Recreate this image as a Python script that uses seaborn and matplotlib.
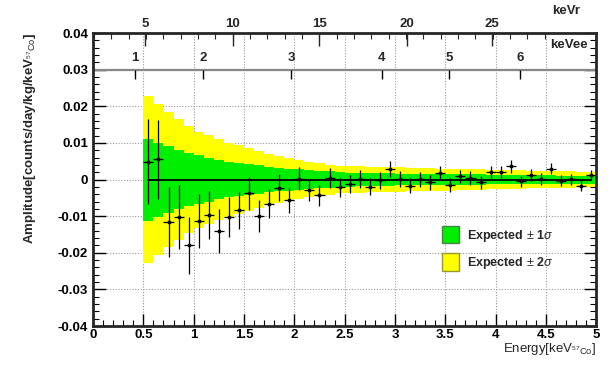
import numpy as np
import matplotlib
matplotlib.use('Agg')
import matplotlib.pyplot as plt
from matplotlib.patches import Patch
import seaborn as sns

sns.set_style('ticks')
plt.rcParams['font.family'] = ['Liberation Sans', 'DejaVu Sans']
plt.rcParams['mathtext.fontset'] = 'custom'
plt.rcParams['mathtext.rm'] = 'Liberation Sans'
plt.rcParams['mathtext.it'] = 'Liberation Sans:italic'
plt.rcParams['mathtext.bf'] = 'Liberation Sans:bold'

# bin centres (keV), 0.1 keV wide
energy = [0.55, 0.65, 0.75, 0.85, 0.95, 1.05, 1.15, 1.25, 1.35, 1.45,
          1.55, 1.65, 1.75, 1.85, 1.95, 2.05, 2.15, 2.25, 2.35, 2.45,
          2.55, 2.65, 2.75, 2.85, 2.95, 3.05, 3.15, 3.25, 3.35, 3.45,
          3.55, 3.65, 3.75, 3.85, 3.95, 4.05, 4.15, 4.25, 4.35, 4.45,
          4.55, 4.65, 4.75, 4.85, 4.95]

amplitude = [0.0048, 0.0055, -0.0116, -0.0102, -0.0179, -0.0113, -0.0097, -0.0141, -0.0102, -0.0084,
             -0.0038, -0.0099, -0.0066, -0.0022, -0.0057, 0.0002, -0.0029, -0.0043, 0.0005, -0.0021,
             -0.0012, 0.0001, -0.0019, -0.0002, 0.0029, 0.0001, -0.0017, 0.0001, -0.0008, 0.0018,
             -0.0014, 0.0009, 0.0004, -0.0008, 0.0020, 0.0020, 0.0036, -0.0005, 0.0013, 0.0001,
             0.0029, -0.0003, 0.0001, -0.0017, 0.0013]

amp_err = [0.0116, 0.0107, 0.0096, 0.0088, 0.0078, 0.0073, 0.0065, 0.0060, 0.0055, 0.0050,
           0.0046, 0.0043, 0.0040, 0.0037, 0.0034, 0.0031, 0.0029, 0.0028, 0.0027, 0.0026,
           0.0025, 0.0024, 0.0023, 0.0023, 0.0022, 0.0021, 0.0021, 0.0020, 0.0020, 0.0019,
           0.0019, 0.0018, 0.0018, 0.0018, 0.0017, 0.0017, 0.0017, 0.0016, 0.0016, 0.0016,
           0.0015, 0.0015, 0.0015, 0.0015, 0.0014]

sigma2 = [0.0227, 0.0206, 0.0184, 0.0164, 0.0145, 0.0131, 0.0122, 0.0110, 0.0101, 0.0094,
          0.0086, 0.0077, 0.0070, 0.0065, 0.0059, 0.0053, 0.0049, 0.0044, 0.0041, 0.0038,
          0.0037, 0.0036, 0.0035, 0.0034, 0.0034, 0.0033, 0.0032, 0.0031, 0.0031, 0.0030,
          0.0030, 0.0029, 0.0028, 0.0028, 0.0027, 0.0026, 0.0026, 0.0025, 0.0024, 0.0024,
          0.0023, 0.0022, 0.0022, 0.0021, 0.0021]

sigma1 = [0.0112, 0.0101, 0.0091, 0.0080, 0.0073, 0.0066, 0.0060, 0.0054, 0.0049, 0.0046,
          0.0043, 0.0039, 0.0035, 0.0032, 0.0030, 0.0028, 0.0026, 0.0024, 0.0022, 0.0020,
          0.0019, 0.0018, 0.0018, 0.0017, 0.0017, 0.0016, 0.0016, 0.0016, 0.0015, 0.0015,
          0.0015, 0.0014, 0.0014, 0.0014, 0.0013, 0.0013, 0.0013, 0.0012, 0.0012, 0.0012,
          0.0012, 0.0011, 0.0011, 0.0011, 0.0011]

# top axis: nuclear recoil energy
kevr_labels = [5, 10, 15, 20, 25]
kevr_pos = [0.52, 1.39, 2.25, 3.12, 3.96]
# inner axis at 0.03: electron-equivalent energy
kevee_labels = [1, 2, 3, 4, 5, 6]
kevee_pos = [0.42, 1.09, 1.97, 2.87, 3.54, 4.24]

energy = np.array(energy)
sigma1 = np.array(sigma1)
sigma2 = np.array(sigma2)

fig = plt.figure(figsize=(6.16, 3.8), dpi=100)
ax = fig.add_axes([0.151, 0.142, 0.817, 0.771])

ax.grid(True, which='major', color='#999999', linestyle=(0, (1, 1.5)), linewidth=0.8)
ax.set_axisbelow(True)

ax.bar(energy, 2 * sigma2, bottom=-sigma2, width=0.1, color='#ffff00', linewidth=0, zorder=2)
ax.bar(energy, 2 * sigma1, bottom=-sigma1, width=0.1, color='#00ee00', linewidth=0, zorder=3)
sns.lineplot(x=[energy[0], energy[-1]], y=[0, 0], ax=ax, color='black', linewidth=1.3, zorder=4)
ax.errorbar(energy, amplitude, yerr=amp_err, xerr=0.05, fmt='o', ms=1.8, color='black',
            elinewidth=0.9, capsize=0, zorder=5)

ax.set_xlim(0, 5)
ax.set_ylim(-0.04, 0.04)
ax.set_xticks(np.arange(0, 5.01, 0.5))
ax.set_xticklabels(['0', '0.5', '1', '1.5', '2', '2.5', '3', '3.5', '4', '4.5', '5'])
ax.set_xticks(np.arange(0, 5.01, 0.1), minor=True)
ax.set_yticks(np.arange(-0.04, 0.0401, 0.01))
ax.set_yticklabels(['-0.04', '-0.03', '-0.02', '-0.01', '0', '0.01', '0.02', '0.03', '0.04'])
ax.set_yticks(np.arange(-0.04, 0.0401, 0.002), minor=True)
ax.tick_params(axis='both', which='both', direction='in', labelsize=9.5, colors='black')
ax.tick_params(axis='y', which='both', right=True)
ax.tick_params(axis='x', which='both', top=False)
ax.tick_params(which='major', length=9, width=1)
ax.tick_params(which='minor', length=4.5, width=0.8)
ax.tick_params(axis='x', pad=2)
for spine in ax.spines.values():
    spine.set_linewidth(2)
    spine.set_zorder(10)

# keVr axis on top
fit = np.polyfit(kevr_labels, kevr_pos, 1)
axt = ax.twiny()
axt.set_xlim(0, 5)
axt.set_xticks(kevr_pos)
axt.set_xticklabels([str(v) for v in kevr_labels])
minor_r = np.polyval(fit, np.arange(2, 29))
axt.set_xticks(minor_r[(minor_r > 0) & (minor_r < 5)], minor=True)
axt.tick_params(axis='x', which='both', direction='in', labelsize=9.5, pad=2)
axt.tick_params(which='major', length=9, width=1)
axt.tick_params(which='minor', length=4.5, width=0.8)
for lab in axt.get_xticklabels():
    lab.set_fontweight('bold')
for spine in axt.spines.values():
    spine.set_visible(False)
axt.text(0.94, 1.055, 'keVr', transform=axt.transAxes, ha='center', va='bottom',
         fontsize=9.5, fontweight='bold')

# keVee axis drawn at 0.03
ax.axhline(0.03, color='#888888', linewidth=1.6, zorder=6)
ax.vlines(kevee_pos, 0.0275, 0.03, color='black', linewidth=1, zorder=7)
for p, v in zip(kevee_pos, kevee_labels):
    ax.text(p, 0.0315, str(v), ha='center', va='bottom', fontsize=9.5, fontweight='bold', zorder=7)
ax.text(4.92, 0.0352, 'keVee', ha='right', va='bottom', fontsize=9.5, fontweight='bold', zorder=7)

for lab in ax.get_xticklabels() + ax.get_yticklabels():
    lab.set_fontweight('bold')

ax.set_ylabel(r'Amplitude[counts/day/kg/keV$_{^{57}\mathrm{Co}}$]', fontsize=9.5,
              fontweight='bold', loc='top', labelpad=14)
ax.set_xlabel(r'Energy[keV$_{^{57}\mathrm{Co}}$]', fontsize=9.5, loc='right', labelpad=0)

handles = [Patch(facecolor='#00ee00', edgecolor='#448844', label=r'Expected $\pm$ 1$\sigma$'),
           Patch(facecolor='#ffff00', edgecolor='#999933', label=r'Expected $\pm$ 2$\sigma$')]
leg = ax.legend(handles=handles, loc='lower left', bbox_to_anchor=(0.672, 0.15), frameon=False,
                handlelength=1.3, handleheight=1.8, labelspacing=0.75, handletextpad=0.7,
                prop={'size': 9, 'weight': 'bold'})

fig.savefig('out.png', dpi=100)
